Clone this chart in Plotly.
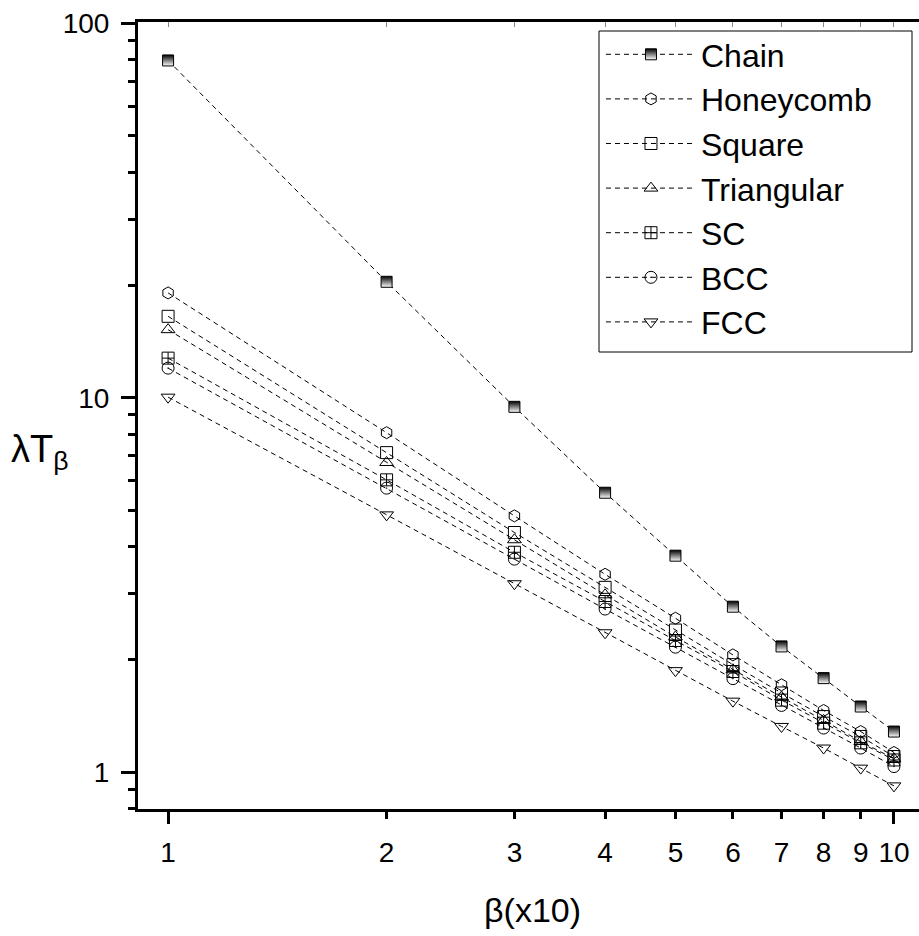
import plotly.graph_objects as go
import math

beta = [1, 2, 3, 4, 5, 6, 7, 8, 9, 10]
chain = [79.5, 20.4, 9.46, 5.58, 3.79, 2.77, 2.17, 1.786, 1.50, 1.286]
honeycomb = [19.05, 8.07, 4.84, 3.38, 2.58, 2.06, 1.714, 1.464, 1.286, 1.131]
square = [16.5, 7.14, 4.37, 3.12, 2.40, 1.94, 1.63, 1.41, 1.248, 1.103]
triangular = [15.2, 6.72, 4.18, 2.98, 2.30, 1.88, 1.59, 1.377, 1.21, 1.088]
sc = [12.76, 6.04, 3.87, 2.86, 2.25, 1.86, 1.56, 1.354, 1.20, 1.08]
bcc = [12.0, 5.74, 3.71, 2.73, 2.16, 1.78, 1.51, 1.314, 1.162, 1.037]
fcc = [10.04, 4.87, 3.19, 2.36, 1.87, 1.55, 1.327, 1.162, 1.027, 0.921]

names = ["Chain", "Honeycomb", "Square", "Triangular", "SC", "BCC", "FCC"]
series = [chain, honeycomb, square, triangular, sc, bcc, fcc]
symbols = ["square", "hexagon-open", "square-open", "triangle-up-open",
           "square-cross-open", "circle-open-dot", "triangle-down-open"]

x_ticks = [1, 2, 3, 4, 5, 6, 7, 8, 9, 10]
y_ticks = [1, 10, 100]
y_minor = [0.8, 0.9, 2, 3, 4, 5, 6, 7, 8, 9, 20, 30, 40, 50, 60, 70, 80, 90]

fig = go.Figure()
for i, (nm, ys, sym) in enumerate(zip(names, series, symbols)):
    marker = dict(symbol=sym, size=12, color="black", line=dict(color="black", width=1))
    if nm == "Chain":
        marker = dict(symbol="square", size=11, color="black",
                      gradient=dict(type="vertical", color="white"),
                      line=dict(color="black", width=1))
    fig.add_trace(go.Scatter(
        x=beta, y=ys, name=nm, mode="lines+markers",
        line=dict(color="black", width=1, dash="5px,4px"),
        marker=marker, legendgroup=nm,
    ))

# helper ghost traces so the extra axes are drawn
fig.add_trace(go.Scatter(x=beta, y=chain, xaxis="x2", mode="markers",
                         marker=dict(opacity=0), showlegend=False, hoverinfo="skip"))
fig.add_trace(go.Scatter(x=beta, y=chain, xaxis="x3", mode="markers",
                         marker=dict(opacity=0), showlegend=False, hoverinfo="skip"))

xr = [math.log10(0.909), 1.0345]
yr = [math.log10(0.799), 2.003]
font = "Liberation Sans, Arial, sans-serif"

fig.update_layout(
    width=919, height=936,
    margin=dict(l=138, r=0, t=22, b=127),
    paper_bgcolor="white", plot_bgcolor="white",
    font=dict(family=font, color="black"),
    xaxis=dict(type="log", range=xr, showgrid=False, zeroline=False,
               showline=True, linecolor="black", linewidth=3,
               tickmode="array", tickvals=x_ticks, ticktext=[str(v) for v in x_ticks],
               ticks="outside", ticklen=7, tickwidth=3, tickcolor="black",
               ticklabelstandoff=9,
               tickfont=dict(size=28, family=font), automargin=False),
    xaxis3=dict(type="log", range=xr, overlaying="x", side="bottom", anchor="y",
                showgrid=False, zeroline=False, showline=False,
                tickmode="array", tickvals=[1, 10], showticklabels=False,
                ticks="outside", ticklen=14, tickwidth=3, tickcolor="black"),
    xaxis2=dict(type="log", range=xr, overlaying="x", side="top", anchor="y",
                showgrid=False, zeroline=False, showline=True,
                linecolor="black", linewidth=3,
                tickmode="array", tickvals=x_ticks, showticklabels=False,
                ticks="inside", ticklen=5, tickwidth=1, tickcolor="#888"),
    yaxis=dict(type="log", range=yr, showgrid=False, zeroline=False,
               showline=True, linecolor="black", linewidth=3,
               tickmode="array", tickvals=y_ticks, ticktext=["1", "10", "100"],
               ticks="outside", ticklen=14, tickwidth=3, tickcolor="black",
               ticklabelstandoff=6,
               tickfont=dict(size=28, family=font), automargin=False,
               minor=dict(tickmode="array", tickvals=y_minor, ticks="outside",
                          ticklen=7, tickwidth=3, tickcolor="black", showgrid=False)),
    legend=dict(x=0.5928, y=0.99365, xanchor="left", yanchor="top",
                bgcolor="rgba(0,0,0,0)", borderwidth=0,
                font=dict(size=32, family=font, color="black"),
                tracegroupgap=0, itemwidth=90),
    showlegend=True,
)

# legend frame (wider box as in the reference)
fig.add_shape(type="rect", xref="paper", yref="paper",
              x0=(599 - 138) / 781, x1=(912 - 138) / 781,
              y0=1 - (352 - 22) / 787, y1=1 - (31 - 22) / 787,
              line=dict(color="black", width=1), fillcolor="white", layer="above")

fig.add_annotation(text="λT<sub>β</sub>", xref="paper", yref="paper",
                   x=-0.1255, y=0.4536, xanchor="center", yanchor="middle",
                   showarrow=False, font=dict(size=38, family=font, color="black"))
fig.add_annotation(text="β(x10)", xref="paper", yref="paper",
                   x=0.5045, y=-0.128, xanchor="center", yanchor="middle",
                   showarrow=False, font=dict(size=34, family=font, color="black"))

fig.write_html("out.html", config={"displayModeBar": False},
               post_script="document.body.style.margin='0';")
